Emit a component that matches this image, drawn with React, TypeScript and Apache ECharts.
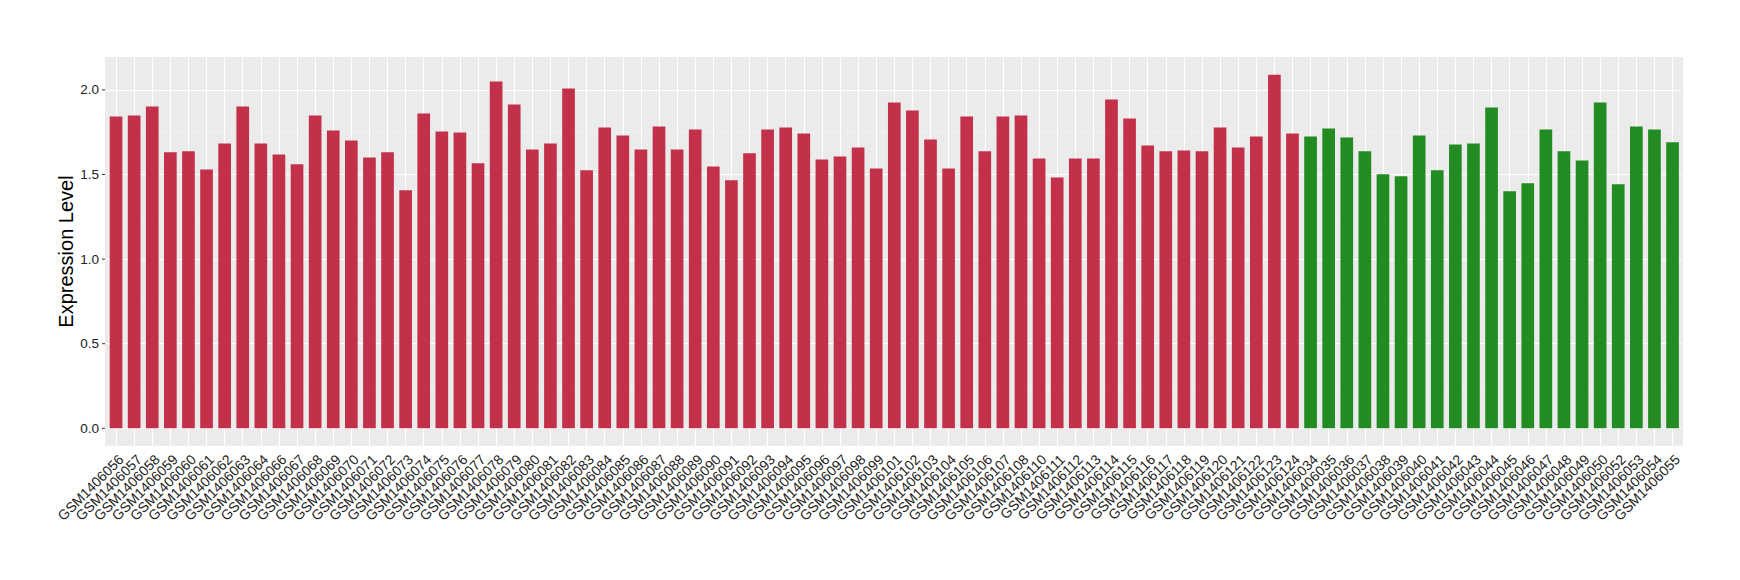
import React, { useEffect, useRef } from "react";
import * as echarts from "echarts";

const redSamples = [
  "GSM1406056", "GSM1406057", "GSM1406058", "GSM1406059", "GSM1406060", "GSM1406061", "GSM1406062", "GSM1406063", "GSM1406064",
  "GSM1406066", "GSM1406067", "GSM1406068", "GSM1406069", "GSM1406070", "GSM1406071", "GSM1406072", "GSM1406073", "GSM1406074",
  "GSM1406075", "GSM1406076", "GSM1406077", "GSM1406078", "GSM1406079", "GSM1406080", "GSM1406081", "GSM1406082", "GSM1406083",
  "GSM1406084", "GSM1406085", "GSM1406086", "GSM1406087", "GSM1406088", "GSM1406089", "GSM1406090", "GSM1406091", "GSM1406092",
  "GSM1406093", "GSM1406094", "GSM1406095", "GSM1406096", "GSM1406097", "GSM1406098", "GSM1406099",
  "GSM1406101", "GSM1406102", "GSM1406103", "GSM1406104", "GSM1406105", "GSM1406106", "GSM1406107", "GSM1406108",
  "GSM1406110", "GSM1406111", "GSM1406112", "GSM1406113", "GSM1406114", "GSM1406115", "GSM1406116", "GSM1406117",
  "GSM1406118", "GSM1406119", "GSM1406120", "GSM1406121", "GSM1406122", "GSM1406123", "GSM1406124",
];
const redValues = [
  1.843, 1.849, 1.902, 1.631, 1.637, 1.530, 1.684, 1.902, 1.684,
  1.619, 1.560, 1.849, 1.760, 1.701, 1.601, 1.631, 1.407, 1.860,
  1.754, 1.749, 1.566, 2.049, 1.914, 1.648, 1.684, 2.008, 1.525,
  1.778, 1.731, 1.648, 1.784, 1.648, 1.766, 1.548, 1.466, 1.625,
  1.766, 1.778, 1.743, 1.589, 1.607, 1.660, 1.536,
  1.925, 1.878, 1.707, 1.536, 1.843, 1.637, 1.843, 1.849,
  1.595, 1.483, 1.595, 1.595, 1.943, 1.831, 1.672, 1.637,
  1.642, 1.637, 1.778, 1.660, 1.725, 2.090, 1.743,
];
const greenSamples = [
  "GSM1406034", "GSM1406035", "GSM1406036", "GSM1406037", "GSM1406038", "GSM1406039", "GSM1406040",
  "GSM1406041", "GSM1406042", "GSM1406043", "GSM1406044", "GSM1406045", "GSM1406046", "GSM1406047",
  "GSM1406048", "GSM1406049", "GSM1406050", "GSM1406052", "GSM1406053", "GSM1406054", "GSM1406055",
];
const greenValues = [
  1.725, 1.772, 1.719, 1.637, 1.501, 1.489, 1.731,
  1.525, 1.678, 1.684, 1.896, 1.401, 1.448, 1.766,
  1.637, 1.583, 1.925, 1.442, 1.784, 1.766, 1.690,
];
const yMajorTicks = [0, 0.5, 1.0, 1.5, 2.0];
const yMinorTicks = [0.25, 0.75, 1.25, 1.75];

const RED = "#C3304A";
const GREEN = "#228B22";

export default function App() {
  const ref = useRef<HTMLDivElement>(null);

  useEffect(() => {
    if (!ref.current) return;
    const chart = echarts.init(ref.current, null, { renderer: "svg" });

    const categories = [...redSamples, ...greenSamples];
    const barData = [
      ...redValues.map((v) => ({ value: v, itemStyle: { color: RED } })),
      ...greenValues.map((v) => ({ value: v, itemStyle: { color: GREEN } })),
    ];
    const allValues = [...redValues, ...greenValues];
    const dataMax = Math.max(...allValues);
    const pad = dataMax * 0.05;
    const yMin = -pad;
    const yMax = dataMax + pad;

    const gridLines: any[] = [
      ...yMinorTicks.map((v) => ({ yAxis: v, lineStyle: { color: "#F5F5F5", width: 0.6, type: "solid" } })),
      ...yMajorTicks.map((v) => ({ yAxis: v, lineStyle: { color: "#FFFFFF", width: 1.1, type: "solid" } })),
      ...categories.map((c) => ({ xAxis: c, lineStyle: { color: "#FFFFFF", width: 1.1, type: "solid" } })),
    ];

    const fontFamily = "'Liberation Sans', Arial, Helvetica, sans-serif";
    const textColor = "#222222";
    const panel = { x: 105, y: 57, width: 1578, height: 389 };

    chart.setOption({
      animation: false,
      grid: {
        left: 107,
        top: panel.y,
        width: 1574.6,
        height: panel.height,
        show: false,
        containLabel: false,
      },
      xAxis: {
        type: "category",
        data: categories,
        boundaryGap: true,
        axisLine: { show: false },
        axisTick: {
          show: true,
          alignWithLabel: true,
          length: 3,
          lineStyle: { color: "#333333", width: 1 },
        },
        splitLine: { show: false },
        axisLabel: {
          interval: 0,
          rotate: 45,
          margin: 6,
          align: "right",
          verticalAlign: "top",
          fontSize: 14,
          color: textColor,
          fontFamily,
        },
      },
      yAxis: {
        type: "value",
        min: yMin,
        max: yMax,
        axisLine: { show: false },
        splitLine: { show: false },
        axisTick: { show: false },
        axisLabel: { show: false },
        name: "Expression Level",
        nameLocation: "middle",
        nameRotate: 90,
        nameGap: 31,
        nameTextStyle: { fontSize: 20, color: "#000000", fontFamily },
      },
      series: [
        {
          type: "bar",
          data: barData,
          barWidth: "70%",
          z: 3,
          silent: true,
          markLine: {
            z: 1,
            silent: true,
            symbol: ["none", "none"],
            label: { show: false },
            emphasis: { disabled: true },
            data: gridLines,
          },
        },
      ],
    });

    // y tick labels and ticks placed through the axis scale
    const yLabels = yMajorTicks
      .map((v) => {
        const p = chart.convertToPixel({ yAxisIndex: 0 } as any, v) as number;
        return [
          {
            type: "text",
            x: 99,
            y: p,
            silent: true,
            style: {
              text: v.toFixed(1),
              fontSize: 13.5,
              fill: textColor,
              fontFamily,
              align: "right",
              verticalAlign: "middle",
            },
          },
          {
            type: "line",
            silent: true,
            shape: { x1: 102, y1: p, x2: 105, y2: p },
            style: { stroke: "#333333", lineWidth: 1 },
          },
        ];
      })
      .flat();

    chart.setOption({
      graphic: [
        {
          type: "rect",
          z: -10,
          silent: true,
          shape: panel,
          style: { fill: "#EBEBEB" },
        },
        ...yLabels,
      ],
    });

    return () => chart.dispose();
  }, []);

  return (
    <div
      ref={ref}
      style={{ position: "absolute", left: 0, top: 0, width: 1740, height: 580 }}
    />
  );
}
